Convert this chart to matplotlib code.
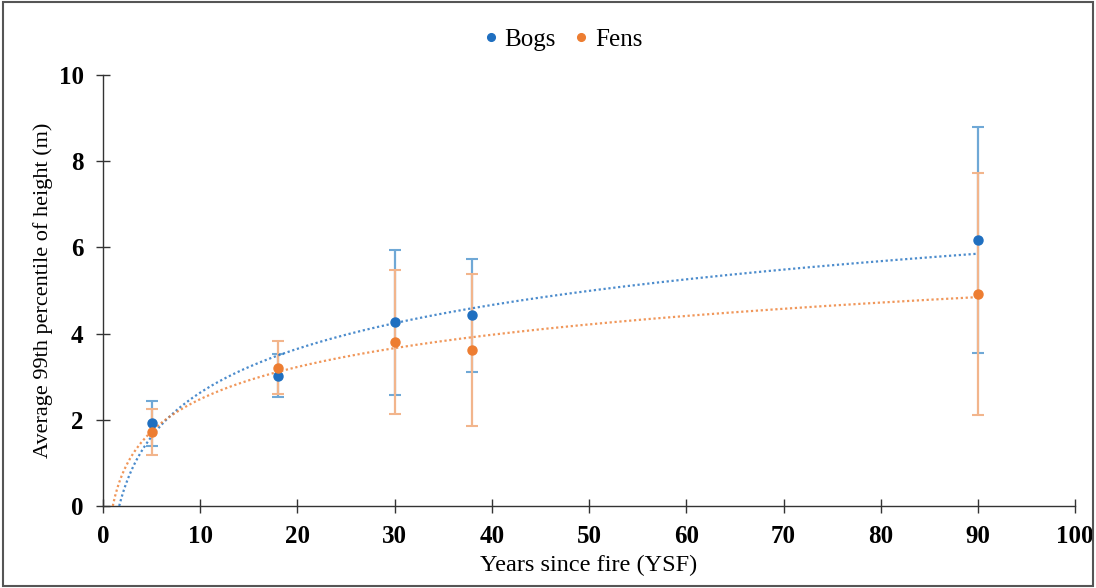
import numpy as np
import matplotlib
matplotlib.use("Agg")
import matplotlib.pyplot as plt
from matplotlib.patches import Rectangle

years = [5, 18, 30, 38, 90]
bogs = [1.92, 3.02, 4.26, 4.42, 6.17]
bogs_err = [0.52, 0.50, 1.68, 1.30, 2.63]
fens = [1.71, 3.21, 3.81, 3.62, 4.92]
fens_err = [0.53, 0.62, 1.67, 1.77, 2.81]

xticks = [0, 10, 20, 30, 40, 50, 60, 70, 80, 90, 100]
yticks = [0, 2, 4, 6, 8, 10]

plt.rcParams['font.family'] = ['Liberation Serif', 'DejaVu Serif']

fig = plt.figure(figsize=(10.96, 5.88), dpi=100)
ax = fig.add_axes([0.094, 0.1395, 0.887, 0.733])

blue = '#1F6FC0'
orange = '#ED7D31'
blue_err = '#6FA8D6'
orange_err = '#F2B58C'

ax.errorbar(years, bogs, yerr=bogs_err, fmt='none', ecolor=blue_err, elinewidth=1.6,
            capsize=4, capthick=1.5, zorder=2)
ax.errorbar(years, fens, yerr=fens_err, fmt='none', ecolor=orange_err, elinewidth=1.6,
            capsize=4, capthick=1.5, zorder=3)

# logarithmic trend lines
for ys, col in [(bogs, blue), (fens, orange)]:
    a, b = np.polyfit(np.log(years), ys, 1)
    x0 = np.exp(-b / a)
    xs = np.linspace(x0, 90, 400)
    ax.plot(xs, a * np.log(xs) + b, linestyle=(0, (1, 1.2)), color=col, lw=1.6, alpha=0.8, zorder=4)

ax.plot(years, bogs, 'o', color=blue, ms=6.5, zorder=5, label='Bogs')
ax.plot(years, fens, 'o', color=orange, ms=6.5, zorder=5, label='Fens')

ax.set_xlim(0, 100)
ax.set_ylim(0, 10)
ax.set_xticks(xticks)
ax.set_yticks(yticks)
for lbl in ax.get_xticklabels() + ax.get_yticklabels():
    lbl.set_fontweight('bold')
ax.tick_params(direction='inout', length=10, width=1, labelsize=18, color='#333333')
ax.tick_params(axis='x', pad=9)
ax.tick_params(axis='y', pad=9)
for s in ['top', 'right']:
    ax.spines[s].set_visible(False)
for s in ['left', 'bottom']:
    ax.spines[s].set_color('#333333')
    ax.spines[s].set_linewidth(1)

ax.set_xlabel('Years since fire (YSF)', fontsize=17.5, labelpad=5)
ax.set_ylabel('Average 99th percentile of height (m)', fontsize=16, labelpad=4)

fig.legend(handles=ax.lines[-2:], labels=['Bogs', 'Fens'], loc='upper center',
           bbox_to_anchor=(0.514, 0.99), ncol=2, frameon=False, fontsize=18,
           handlelength=0.5, handletextpad=0.3, columnspacing=0.75, markerscale=0.85)

fig.patches.append(Rectangle((0.003, 0.003), 0.994, 0.994, transform=fig.transFigure,
                             fill=False, edgecolor='#555555', lw=1.5))

fig.savefig('out.png', dpi=100)
